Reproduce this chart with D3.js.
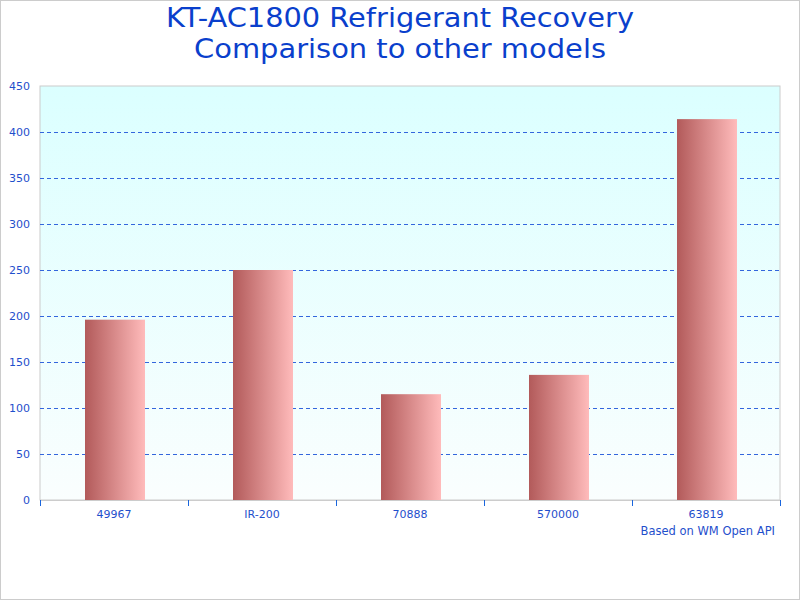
<!DOCTYPE html>
<html><head><meta charset="utf-8">
<script src="https://cdn.jsdelivr.net/npm/d3@7"></script>
<style>body{margin:0;background:#fff}svg{display:block}text{font-family:"DejaVu Sans",Verdana,sans-serif}</style>
</head><body><svg id="c" width="800" height="600"></svg>
<script>
const categories = ["49967","IR-200","70888","570000","63819"];
const values = [196, 250, 115, 136, 414];
const yTicks = [0,50,100,150,200,250,300,350,400,450];
const titleLines = ["KT-AC1800 Refrigerant Recovery","Comparison to other models"];
const footnote = "Based on WM Open API";

const svg = d3.select("#c");
const W=800,H=600, m={l:40,r:20,t:86,b:100};
const pw=W-m.l-m.r, ph=H-m.t-m.b;
const defs = svg.append("defs");
const bg = defs.append("linearGradient").attr("id","bg").attr("x1",0).attr("y1",0).attr("x2",0).attr("y2",1);
bg.append("stop").attr("offset","0").attr("stop-color","#dbffff");
bg.append("stop").attr("offset","1").attr("stop-color","#fafefe");
const bar = defs.append("linearGradient").attr("id","bar").attr("x1",0).attr("y1",0).attr("x2",1).attr("y2",0);
bar.append("stop").attr("offset","0").attr("stop-color","#b25a5a");
bar.append("stop").attr("offset","1").attr("stop-color","#ffbbbb");

svg.append("rect").attr("x",0.5).attr("y",0.5).attr("width",W-1).attr("height",H-1).attr("fill","#fff").attr("stroke","#cccccc");

const x = d3.scaleBand().domain(categories).range([m.l, m.l+pw]).paddingInner(0).paddingOuter(0);
const y = d3.scaleLinear().domain([0,450]).range([m.t+ph, m.t]);

svg.append("rect").attr("x",m.l).attr("y",m.t).attr("width",pw).attr("height",ph).attr("fill","url(#bg)").attr("stroke","#cccccc");

svg.append("g").selectAll("line").data(yTicks.filter(d=>d>0&&d<450)).join("line")
  .attr("x1",m.l).attr("x2",m.l+pw).attr("y1",d=>Math.round(y(d))+0.5).attr("y2",d=>Math.round(y(d))+0.5)
  .attr("stroke","#3366dd").attr("stroke-dasharray","4,3");

const bw = 60;
svg.append("g").selectAll("rect").data(values).join("rect")
  .attr("x",(d,i)=>x(categories[i])+x.bandwidth()/2-bw/2+1)
  .attr("width",bw)
  .attr("y",d=>y(d)).attr("height",d=>y(0)-y(d))
  .attr("fill","url(#bar)");

svg.append("line").attr("x1",m.l).attr("x2",m.l+pw).attr("y1",m.t+ph+0.5).attr("y2",m.t+ph+0.5).attr("stroke","#cccccc");

const xb = categories.map(c=>x(c)).concat([m.l+pw]);
svg.append("g").selectAll("line").data(xb).join("line")
  .attr("x1",d=>Math.round(d)+0.5).attr("x2",d=>Math.round(d)+0.5).attr("y1",m.t+ph).attr("y2",m.t+ph+6)
  .attr("stroke","#1a66dd");

const lc = "#1f4fcc";
svg.append("g").selectAll("text").data(yTicks).join("text")
  .attr("x",30).attr("y",d=>y(d)+4).attr("text-anchor","end").attr("font-size",11).attr("fill",lc).text(d=>d);

svg.append("g").selectAll("text").data(categories).join("text")
  .attr("x",d=>x(d)+x.bandwidth()/2).attr("y",518).attr("text-anchor","middle").attr("font-size",11).attr("fill",lc).text(d=>d);

svg.append("text").attr("x",775).attr("y",535).attr("text-anchor","end").attr("font-size",11.5).attr("fill",lc).text(footnote);

svg.append("g").selectAll("text").data(titleLines).join("text")
  .attr("x",400).attr("y",(d,i)=>27+i*31).attr("text-anchor","middle").attr("font-size",26)
  .attr("textLength",(d,i)=>i===0?468:412).attr("lengthAdjust","spacingAndGlyphs")
  .attr("fill","#0a3fcc").text(d=>d);
</script></body></html>
